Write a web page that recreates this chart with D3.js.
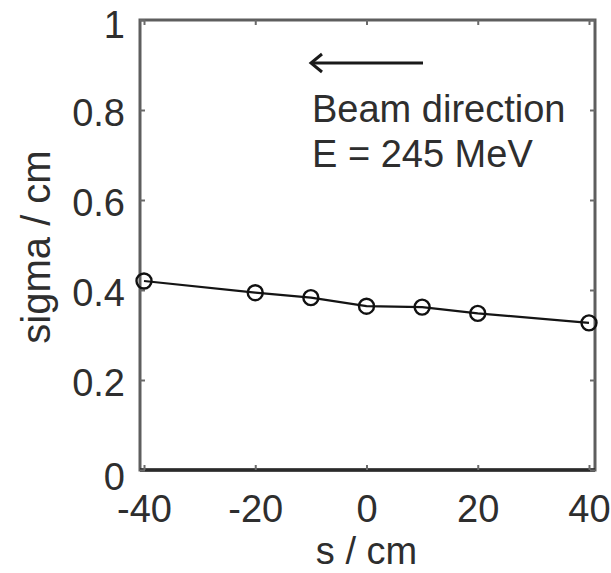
<!DOCTYPE html>
<html>
<head>
<meta charset="utf-8">
<script src="https://cdn.jsdelivr.net/npm/d3@7"></script>
<style>
  html, body { margin: 0; padding: 0; background: #fff; }
  svg { display: block; }
  text { font-family: "Liberation Sans", Arial, sans-serif; }
</style>
</head>
<body>
<svg id="chart" width="611" height="573"></svg>
<script>
// Beam width sigma along the position s
const positions = [-40, -20, -10, 0, 10, 20, 40];
const sigmaValues = [0.420, 0.394, 0.383, 0.364, 0.362, 0.348, 0.327];
const xTicks = [-40, -20, 0, 20, 40];
const yTicks = [0, 0.2, 0.4, 0.6, 0.8, 1];
const annotationLines = ["Beam direction", "E = 245 MeV"];

const frame = { left: 140, right: 595, top: 20, bottom: 470 };

const svg = d3.select("#chart");

// the data range sits a few pixels inside the frame horizontally
const x = d3.scaleLinear().domain([-40, 40]).range([144, 589]);
const y = d3.scaleLinear().domain([0, 1]).range([frame.bottom, frame.top]);

const fontSize = 38;
const textColor = "#2e2e2e";
const frameColor = "#5e5e5e";
const tickColor = "#6a6a6a";

// Frame
svg.append("rect")
  .attr("x", frame.left).attr("y", frame.top)
  .attr("width", frame.right - frame.left).attr("height", frame.bottom - frame.top)
  .attr("fill", "none").attr("stroke", frameColor).attr("stroke-width", 3);
svg.append("line")
  .attr("x1", frame.left).attr("x2", frame.right)
  .attr("y1", frame.bottom).attr("y2", frame.bottom)
  .attr("stroke", "#2a2a2a").attr("stroke-width", 3.5);

// Axes with inward ticks
const xAxis = d3.axisBottom(x).tickValues(xTicks).tickSize(-5)
  .tickFormat(d => d < 0 ? "-" + Math.abs(d) : String(d));
const gx = svg.append("g").attr("transform", `translate(0,${frame.bottom})`).call(xAxis);
gx.select(".domain").remove();
gx.selectAll(".tick line").attr("stroke", tickColor).attr("stroke-width", 2);
gx.selectAll(".tick text")
  .attr("font-size", fontSize).attr("fill", textColor)
  .attr("y", 25).attr("dy", "0.71em");

const xTop = d3.axisTop(x).tickValues(xTicks).tickSize(-5).tickFormat("");
const gxt = svg.append("g").attr("transform", `translate(0,${frame.top})`).call(xTop);
gxt.select(".domain").remove();
gxt.selectAll(".tick line").attr("stroke", tickColor).attr("stroke-width", 2);

const yAxis = d3.axisLeft(y).tickValues(yTicks).tickSize(-5).tickPadding(15)
  .tickFormat(d => d === 0 || d === 1 ? String(d) : d3.format(".1f")(d));
const gy = svg.append("g").attr("transform", `translate(${frame.left},0)`).call(yAxis);
gy.select(".domain").remove();
gy.selectAll(".tick line").attr("stroke", tickColor).attr("stroke-width", 2);
gy.selectAll(".tick text")
  .attr("font-size", fontSize).attr("fill", textColor)
  .attr("dy", d => d === 0 ? "0.52em" : d === 1 ? "0.47em" : "0.42em");

const yRight = d3.axisRight(y).tickValues(yTicks).tickSize(-5).tickFormat("");
const gyr = svg.append("g").attr("transform", `translate(${frame.right},0)`).call(yRight);
gyr.select(".domain").remove();
gyr.selectAll(".tick line").attr("stroke", tickColor).attr("stroke-width", 2);

// Axis titles
svg.append("text")
  .attr("x", x(0)).attr("y", 564)
  .attr("text-anchor", "middle").attr("font-size", fontSize).attr("fill", textColor)
  .text("s / cm");
svg.append("text")
  .attr("transform", `translate(50,247) rotate(-90)`)
  .attr("text-anchor", "middle").attr("font-size", 40).attr("fill", textColor)
  .text("sigma / cm");

// Data line and markers
const data = positions.map((s, i) => ({ s, v: sigmaValues[i] }));
svg.append("path")
  .datum(data)
  .attr("fill", "none").attr("stroke", "#141414").attr("stroke-width", 2.2)
  .attr("d", d3.line().x(d => x(d.s)).y(d => y(d.v)));
svg.selectAll("circle.pt").data(data).enter().append("circle")
  .attr("class", "pt")
  .attr("cx", d => x(d.s)).attr("cy", d => y(d.v)).attr("r", 7.5)
  .attr("fill", "none").attr("stroke", "#111").attr("stroke-width", 2.4);

// Beam direction arrow
const arrowY = 63;
svg.append("line")
  .attr("x1", 423).attr("x2", 312).attr("y1", arrowY).attr("y2", arrowY)
  .attr("stroke", "#1a1a1a").attr("stroke-width", 3);
svg.append("path")
  .attr("d", `M322,${arrowY - 9} L311,${arrowY} L322,${arrowY + 9}`)
  .attr("fill", "none").attr("stroke", "#1a1a1a").attr("stroke-width", 3);

// Annotation text
svg.selectAll("text.note").data(annotationLines).enter().append("text")
  .attr("class", "note")
  .attr("x", 312).attr("y", (d, i) => 122 + i * 45)
  .attr("font-size", fontSize).attr("fill", textColor)
  .text(d => d);
</script>
</body>
</html>
